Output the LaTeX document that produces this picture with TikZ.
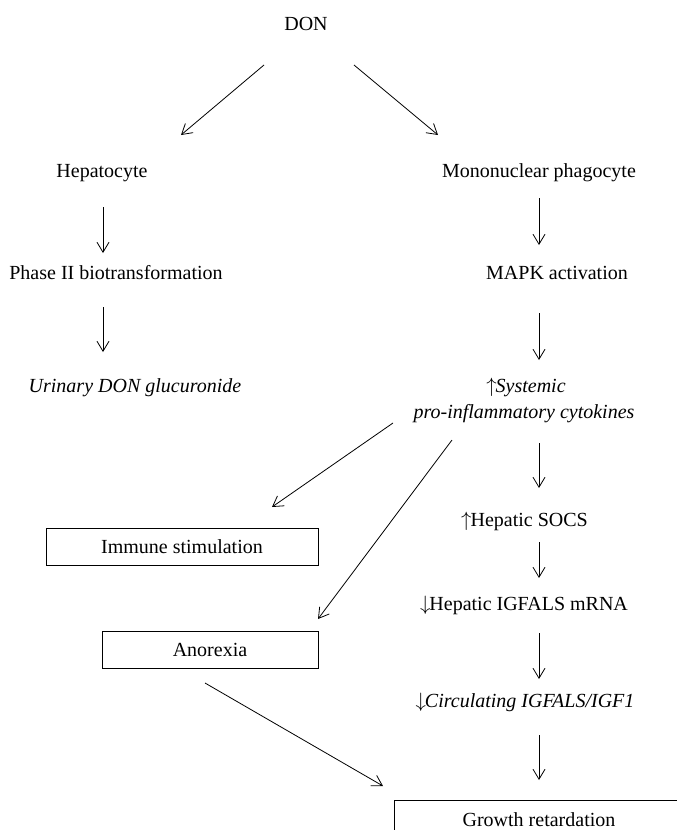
\documentclass[tikz,border=0pt]{standalone}
\usepackage{fontspec}
\setmainfont{Liberation Serif}
\usetikzlibrary{arrows.meta}
\begin{document}
\begin{tikzpicture}[x=1pt,y=-1pt,
  lbl/.style={inner sep=0pt, anchor=base, font=\fontsize{20}{26}\selectfont},
  boxnode/.style={draw, line width=0.9pt, inner sep=0pt, font=\fontsize{20}{26}\selectfont, text height=13.2pt, text depth=0pt},
  arr/.style={-{Straight Barb[length=10pt,width=12pt,line width=0.8pt]}, line width=0.8pt}]
\useasboundingbox (0,0) rectangle (677,830);
\clip (0,0) rectangle (677,830);
% text nodes
\node[lbl] (don) at (306,30) {DON};
\node[lbl] (hep) at (102,177) {Hepatocyte};
\node[lbl] (phase) at (116,279) {Phase II biotransformation};
\node[lbl] (urin) at (135,392) {\textit{Urinary DON glucuronide}};
\node[lbl] (mono) at (539,177) {Mononuclear phagocyte};
\node[lbl] (mapk) at (557,279) {MAPK activation};
\node[lbl] (cytoA) at (526,392) {$\uparrow$\kern-1pt\textit{Systemic}};
\node[lbl] (cytoB) at (524,418) {\textit{pro-inflammatory cytokines}};
\node[lbl] (socs) at (524.5,526) {$\uparrow$\kern-1pt Hepatic SOCS};
\node[lbl] (igfals) at (524,610) {$\downarrow$\kern-1pt Hepatic IGFALS mRNA};
\node[lbl] (circ) at (525,707) {$\downarrow$\kern-1pt\textit{Circulating IGFALS/IGF1}};
% boxes
\node[boxnode, minimum width=272pt, minimum height=37pt] (immune) at (182,546.5) {Immune stimulation};
\node[boxnode, minimum width=216pt, minimum height=37pt] (anorexia) at (210,649.5) {Anorexia};
\node[boxnode, minimum width=290pt, minimum height=39pt] (growth) at (539,819.5) {Growth retardation};
% connector end points
\coordinate (a1s) at (264,65);  \coordinate (a1e) at (181,135);
\coordinate (a2s) at (354,65);  \coordinate (a2e) at (438,135);
\coordinate (a3s) at (103,207); \coordinate (a3e) at (103,253);
\coordinate (a4s) at (103,307); \coordinate (a4e) at (103,352);
\coordinate (a5s) at (539,198); \coordinate (a5e) at (539,245);
\coordinate (a6s) at (539,313); \coordinate (a6e) at (539,360);
\coordinate (a7s) at (539,443); \coordinate (a7e) at (539,488);
\coordinate (a8s) at (539,542); \coordinate (a8e) at (539,578);
\coordinate (a9s) at (539,633); \coordinate (a9e) at (539,679);
\coordinate (a10s) at (539,735); \coordinate (a10e) at (539,780);
\coordinate (a11s) at (393,423); \coordinate (a11e) at (272,507);
\coordinate (a12s) at (452,440); \coordinate (a12e) at (318,619);
\coordinate (a13s) at (205,683); \coordinate (a13e) at (383,786);
% connectors
\draw[arr] (a1s) -- (a1e);
\draw[arr] (a2s) -- (a2e);
\draw[arr] (a3s) -- (a3e);
\draw[arr] (a4s) -- (a4e);
\draw[arr] (a5s) -- (a5e);
\draw[arr] (a6s) -- (a6e);
\draw[arr] (a7s) -- (a7e);
\draw[arr] (a8s) -- (a8e);
\draw[arr] (a9s) -- (a9e);
\draw[arr] (a10s) -- (a10e);
\draw[arr] (a11s) -- (a11e);
\draw[arr] (a12s) -- (a12e);
\draw[arr] (a13s) -- (a13e);
\end{tikzpicture}
\end{document}
